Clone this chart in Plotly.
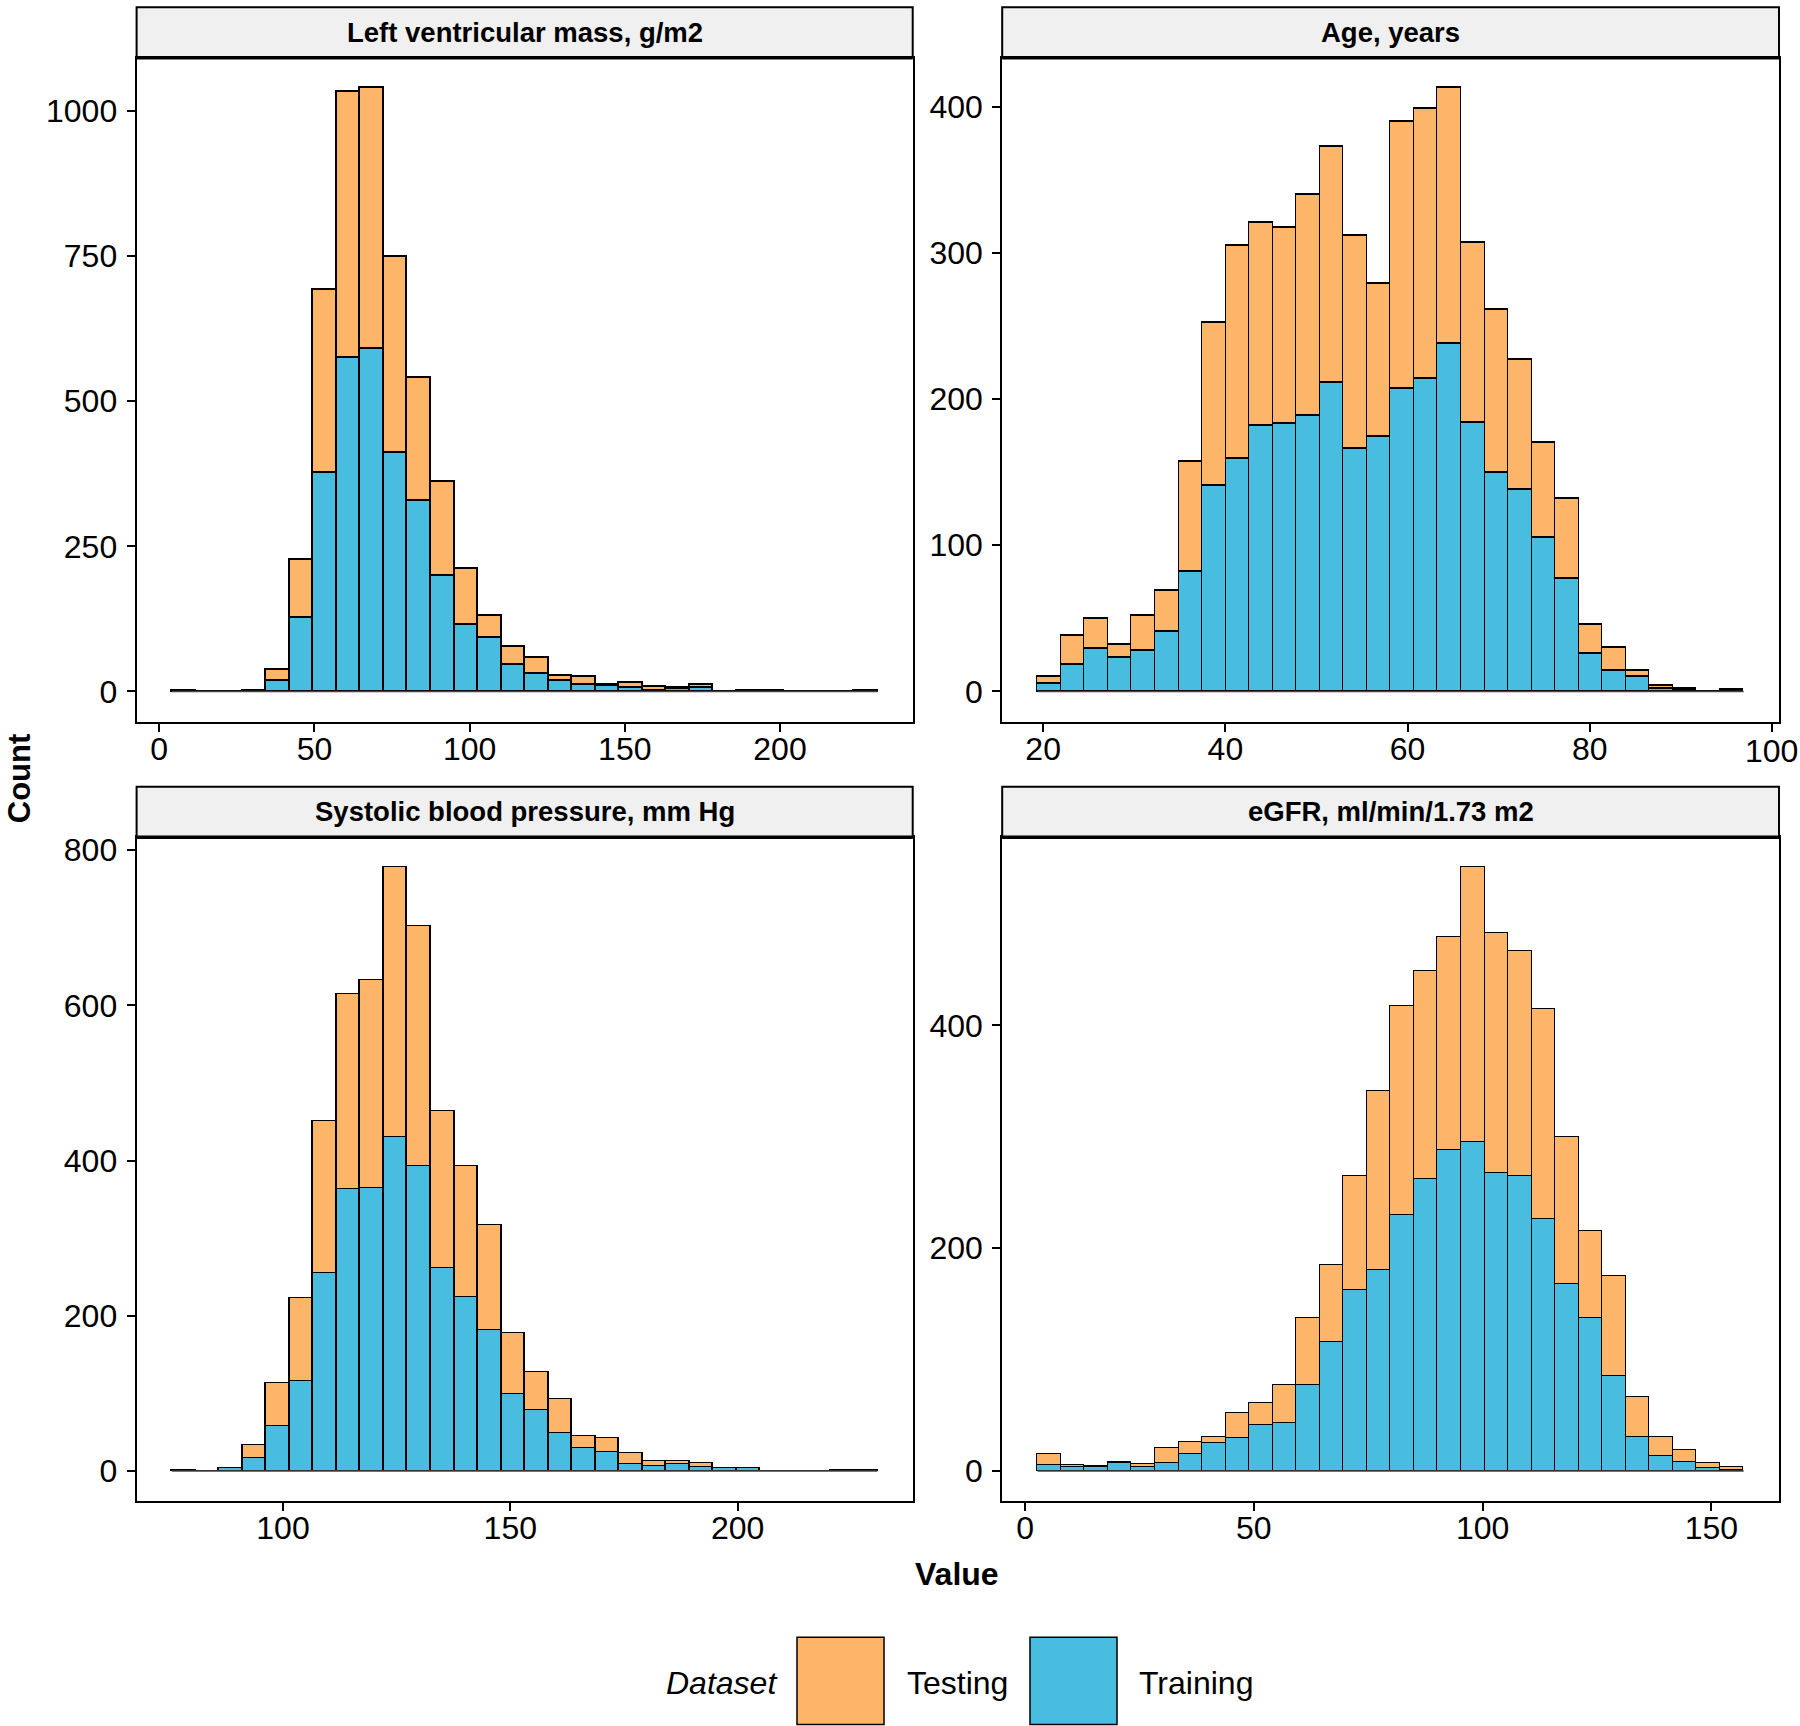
import plotly.graph_objects as go

W, H = 1800, 1726

# ---------------- data (30 bins per panel, Training stacked under Testing) ----------------
panel_titles = ["Left ventricular mass, g/m2", "Age, years",
                "Systolic blood pressure, mm Hg", "eGFR, ml/min/1.73 m2"]

# first and last bin centre of each histogram
lvm_bins = (7.86, 227.6)
age_bins = (20.67, 95.6)
sbp_bins = (78.14, 228.17)
egfr_bins = (5.28, 154.5)

lvm_training = [1, 0, 0, 1, 18, 128, 377, 575, 591, 411, 328, 199, 115, 92, 46,
                30, 19, 11, 10, 7, 2, 5, 7, 0, 1, 1, 0, 0, 0, 1]
lvm_testing = [0, 0, 0, 1, 19, 99, 316, 459, 449, 338, 213, 162, 97, 39, 31,
               28, 9, 14, 2, 9, 6, 1, 5, 0, 0, 0, 0, 0, 0, 0]

age_training = [5, 18, 29, 23, 28, 41, 82, 141, 159, 182, 183, 189, 211, 166, 174,
                207, 214, 238, 184, 150, 138, 105, 77, 26, 14, 10, 2, 1, 0, 1]
age_testing = [5, 20, 21, 9, 24, 28, 75, 111, 146, 139, 134, 151, 162, 146, 105,
               183, 185, 175, 123, 111, 89, 65, 55, 20, 16, 4, 2, 1, 0, 0]

sbp_training = [1, 0, 3, 17, 58, 116, 255, 363, 364, 430, 393, 261, 224, 181, 99,
                78, 48, 29, 24, 9, 6, 9, 5, 4, 3, 0, 0, 0, 1, 1]
sbp_testing = [0, 0, 1, 16, 55, 107, 196, 252, 268, 348, 309, 203, 169, 136, 79,
               49, 44, 16, 18, 14, 6, 3, 5, 0, 0, 0, 0, 0, 0, 0]

egfr_training = [5, 3, 3, 7, 3, 7, 15, 25, 29, 41, 43, 77, 116, 162, 180,
                 230, 262, 288, 295, 267, 265, 226, 168, 137, 85, 30, 13, 8, 2, 1]
egfr_testing = [10, 2, 1, 1, 3, 13, 11, 5, 23, 20, 34, 60, 69, 103, 161,
                187, 187, 191, 247, 216, 202, 189, 132, 78, 90, 36, 17, 11, 5, 2]

x_ticks = [[0, 50, 100, 150, 200], [20, 40, 60, 80, 100], [100, 150, 200], [0, 50, 100, 150]]
y_ticks = [[0, 250, 500, 750, 1000], [0, 100, 200, 300, 400], [0, 200, 400, 600, 800], [0, 200, 400]]

dataset_names = ["Testing", "Training"]

# ---------------- style ----------------
ORANGE = "#FDB56A"
BLUE = "#48BDDF"
FONT = "Liberation Sans, Arial, Helvetica, sans-serif"
TICK_SIZE = 32
STRIP_SIZE = 27.5

# panel pixel boxes in page pixels: (left, right) and (top-of-plot, bottom-of-plot, top-of-strip)
cols = [(136.6, 912.7), (1002.2, 1779.0)]
rows = [(52.8, 718.7, 2.3), (834.6, 1500.4, 784.0)]
X_LABEL_Y = 748.5   # vertical centre of x tick labels of the top row (page px)


def px_x(v):
    return v / W


def px_y(v):
    return 1 - v / H


panels = [
    (lvm_bins, lvm_training, lvm_testing),
    (age_bins, age_training, age_testing),
    (sbp_bins, sbp_training, sbp_testing),
    (egfr_bins, egfr_training, egfr_testing),
]

fig = go.Figure()
layout = dict(
    width=W, height=H, margin=dict(l=0, r=0, t=0, b=0),
    paper_bgcolor="white", plot_bgcolor="white",
    barmode="stack", bargap=0, showlegend=False,
    font=dict(family=FONT, color="black"),
)
shapes = []
annotations = []

for i, (bins, train, test) in enumerate(panels):
    r, c = divmod(i, 2)
    lo, hi = bins
    n = len(train)
    w = (hi - lo) / (n - 1)
    centers = [lo + k * w for k in range(n)]
    left_edge, right_edge = lo - w / 2, hi + w / 2
    span = right_edge - left_edge
    totals = [a + b for a, b in zip(train, test)]
    ymax = max(totals)

    xa = "x" if i == 0 else f"x{i + 1}"
    ya = "y" if i == 0 else f"y{i + 1}"

    fig.add_trace(go.Scatter(x=[left_edge, right_edge], y=[0, 0], mode="lines",
                             line=dict(color="#444444", width=1.5),
                             xaxis=xa, yaxis=ya, hoverinfo="skip", showlegend=False))
    fig.add_trace(go.Bar(x=centers, y=train, width=w, name=dataset_names[1],
                         marker=dict(color=BLUE, line=dict(color="black", width=1.5)),
                         xaxis=xa, yaxis=ya, showlegend=False))
    fig.add_trace(go.Bar(x=centers, y=test, width=w, name=dataset_names[0],
                         marker=dict(color=ORANGE, line=dict(color="black", width=1.5)),
                         xaxis=xa, yaxis=ya, showlegend=False))

    x0p, x1p = cols[c]
    ytop, ybot, ystrip = rows[r]
    axis_common = dict(showgrid=False, zeroline=False, showline=True, mirror=True,
                       linecolor="black", linewidth=2, ticks="outside", ticklen=8,
                       tickwidth=2, tickcolor="black",
                       tickfont=dict(family=FONT, size=TICK_SIZE, color="black"))
    xrange = [left_edge - 0.05 * span, right_edge + 0.05 * span]
    # tick labels that would run past the page edge are written as a separate label
    xt = x_ticks[i]
    x_text = [str(v) for v in xt]
    edge_labels = []
    if c == 1:
        frac_per_unit = (x1p - x0p) / (xrange[1] - xrange[0])
        for k, v in enumerate(xt):
            if x0p + (v - xrange[0]) * frac_per_unit + 0.8 * TICK_SIZE * len(x_text[k]) / 2 > W:
                edge_labels.append(x_text[k])
                x_text[k] = ""
    layout["xaxis" if i == 0 else f"xaxis{i + 1}"] = dict(
        domain=[px_x(x0p), px_x(x1p)], anchor=ya, range=xrange,
        tickvals=xt, ticktext=x_text, ticklabelstandoff=-10, **axis_common)
    layout["yaxis" if i == 0 else f"yaxis{i + 1}"] = dict(
        domain=[px_y(ybot), px_y(ytop)], anchor=xa,
        range=[-0.05 * ymax, 1.05 * ymax],
        tickvals=y_ticks[i], ticklabelstandoff=3, **axis_common)
    for lab in edge_labels:
        annotations.append(dict(text=lab, xref="paper", yref="paper", x=1,
                                y=px_y(X_LABEL_Y + (ybot - rows[0][1])),
                                xanchor="right", yanchor="middle", showarrow=False,
                                font=dict(family=FONT, size=TICK_SIZE, color="black")))

    # facet strip
    shapes.append(dict(type="rect", xref="paper", yref="paper",
                       x0=px_x(x0p), x1=px_x(x1p), y0=px_y(ytop), y1=px_y(ystrip),
                       fillcolor="#F0F0F0", line=dict(color="black", width=2), layer="above"))
    shapes.append(dict(type="line", xref="paper", yref="paper",
                       x0=px_x(x0p), x1=px_x(x1p), y0=px_y(ytop), y1=px_y(ytop),
                       line=dict(color="black", width=3.5), layer="above"))
    annotations.append(dict(text=f"<b>{panel_titles[i]}</b>", xref="paper", yref="paper",
                            x=px_x((x0p + x1p) / 2), y=px_y((ytop + ystrip) / 2),
                            xanchor="center", yanchor="middle", showarrow=False,
                            font=dict(family=FONT, size=STRIP_SIZE, color="black")))

# axis titles
annotations.append(dict(text="<b>Count</b>", xref="paper", yref="paper",
                        x=0, y=px_y(776), textangle=-90, showarrow=False,
                        xanchor="left", yanchor="middle",
                        font=dict(family=FONT, size=31, color="black")))
annotations.append(dict(text="<b>Value</b>", xref="paper", yref="paper",
                        x=px_x(957), y=px_y(1574), showarrow=False,
                        xanchor="center", yanchor="middle",
                        font=dict(family=FONT, size=32, color="black")))

# legend (drawn manually to mimic the large ggplot keys)
annotations.append(dict(text="<i>Dataset</i>", xref="paper", yref="paper",
                        x=px_x(779), y=px_y(1683), xanchor="right", yanchor="middle",
                        showarrow=False, font=dict(family=FONT, size=32, color="black")))
key_boxes = [(797, 884, ORANGE, 905), (1030, 1117, BLUE, 1137)]
for (kx0, kx1, col, tx), name in zip(key_boxes, dataset_names):
    shapes.append(dict(type="rect", xref="paper", yref="paper",
                       x0=px_x(kx0), x1=px_x(kx1), y0=px_y(1724.5), y1=px_y(1637),
                       fillcolor=col, line=dict(color="black", width=1.5)))
    annotations.append(dict(text=name, xref="paper", yref="paper",
                            x=px_x(tx), y=px_y(1683), xanchor="left", yanchor="middle",
                            showarrow=False, font=dict(family=FONT, size=32, color="black")))

layout["shapes"] = shapes
layout["annotations"] = annotations
fig.update_layout(**layout)

page_fix = ("document.body.style.margin='0';"
            "document.documentElement.style.overflow='hidden';"
            "var gd=document.getElementById('{plot_id}');"
            "gd.style.overflow='hidden';")
fig.write_html("out.html", config={"displayModeBar": False}, post_script=page_fix)
